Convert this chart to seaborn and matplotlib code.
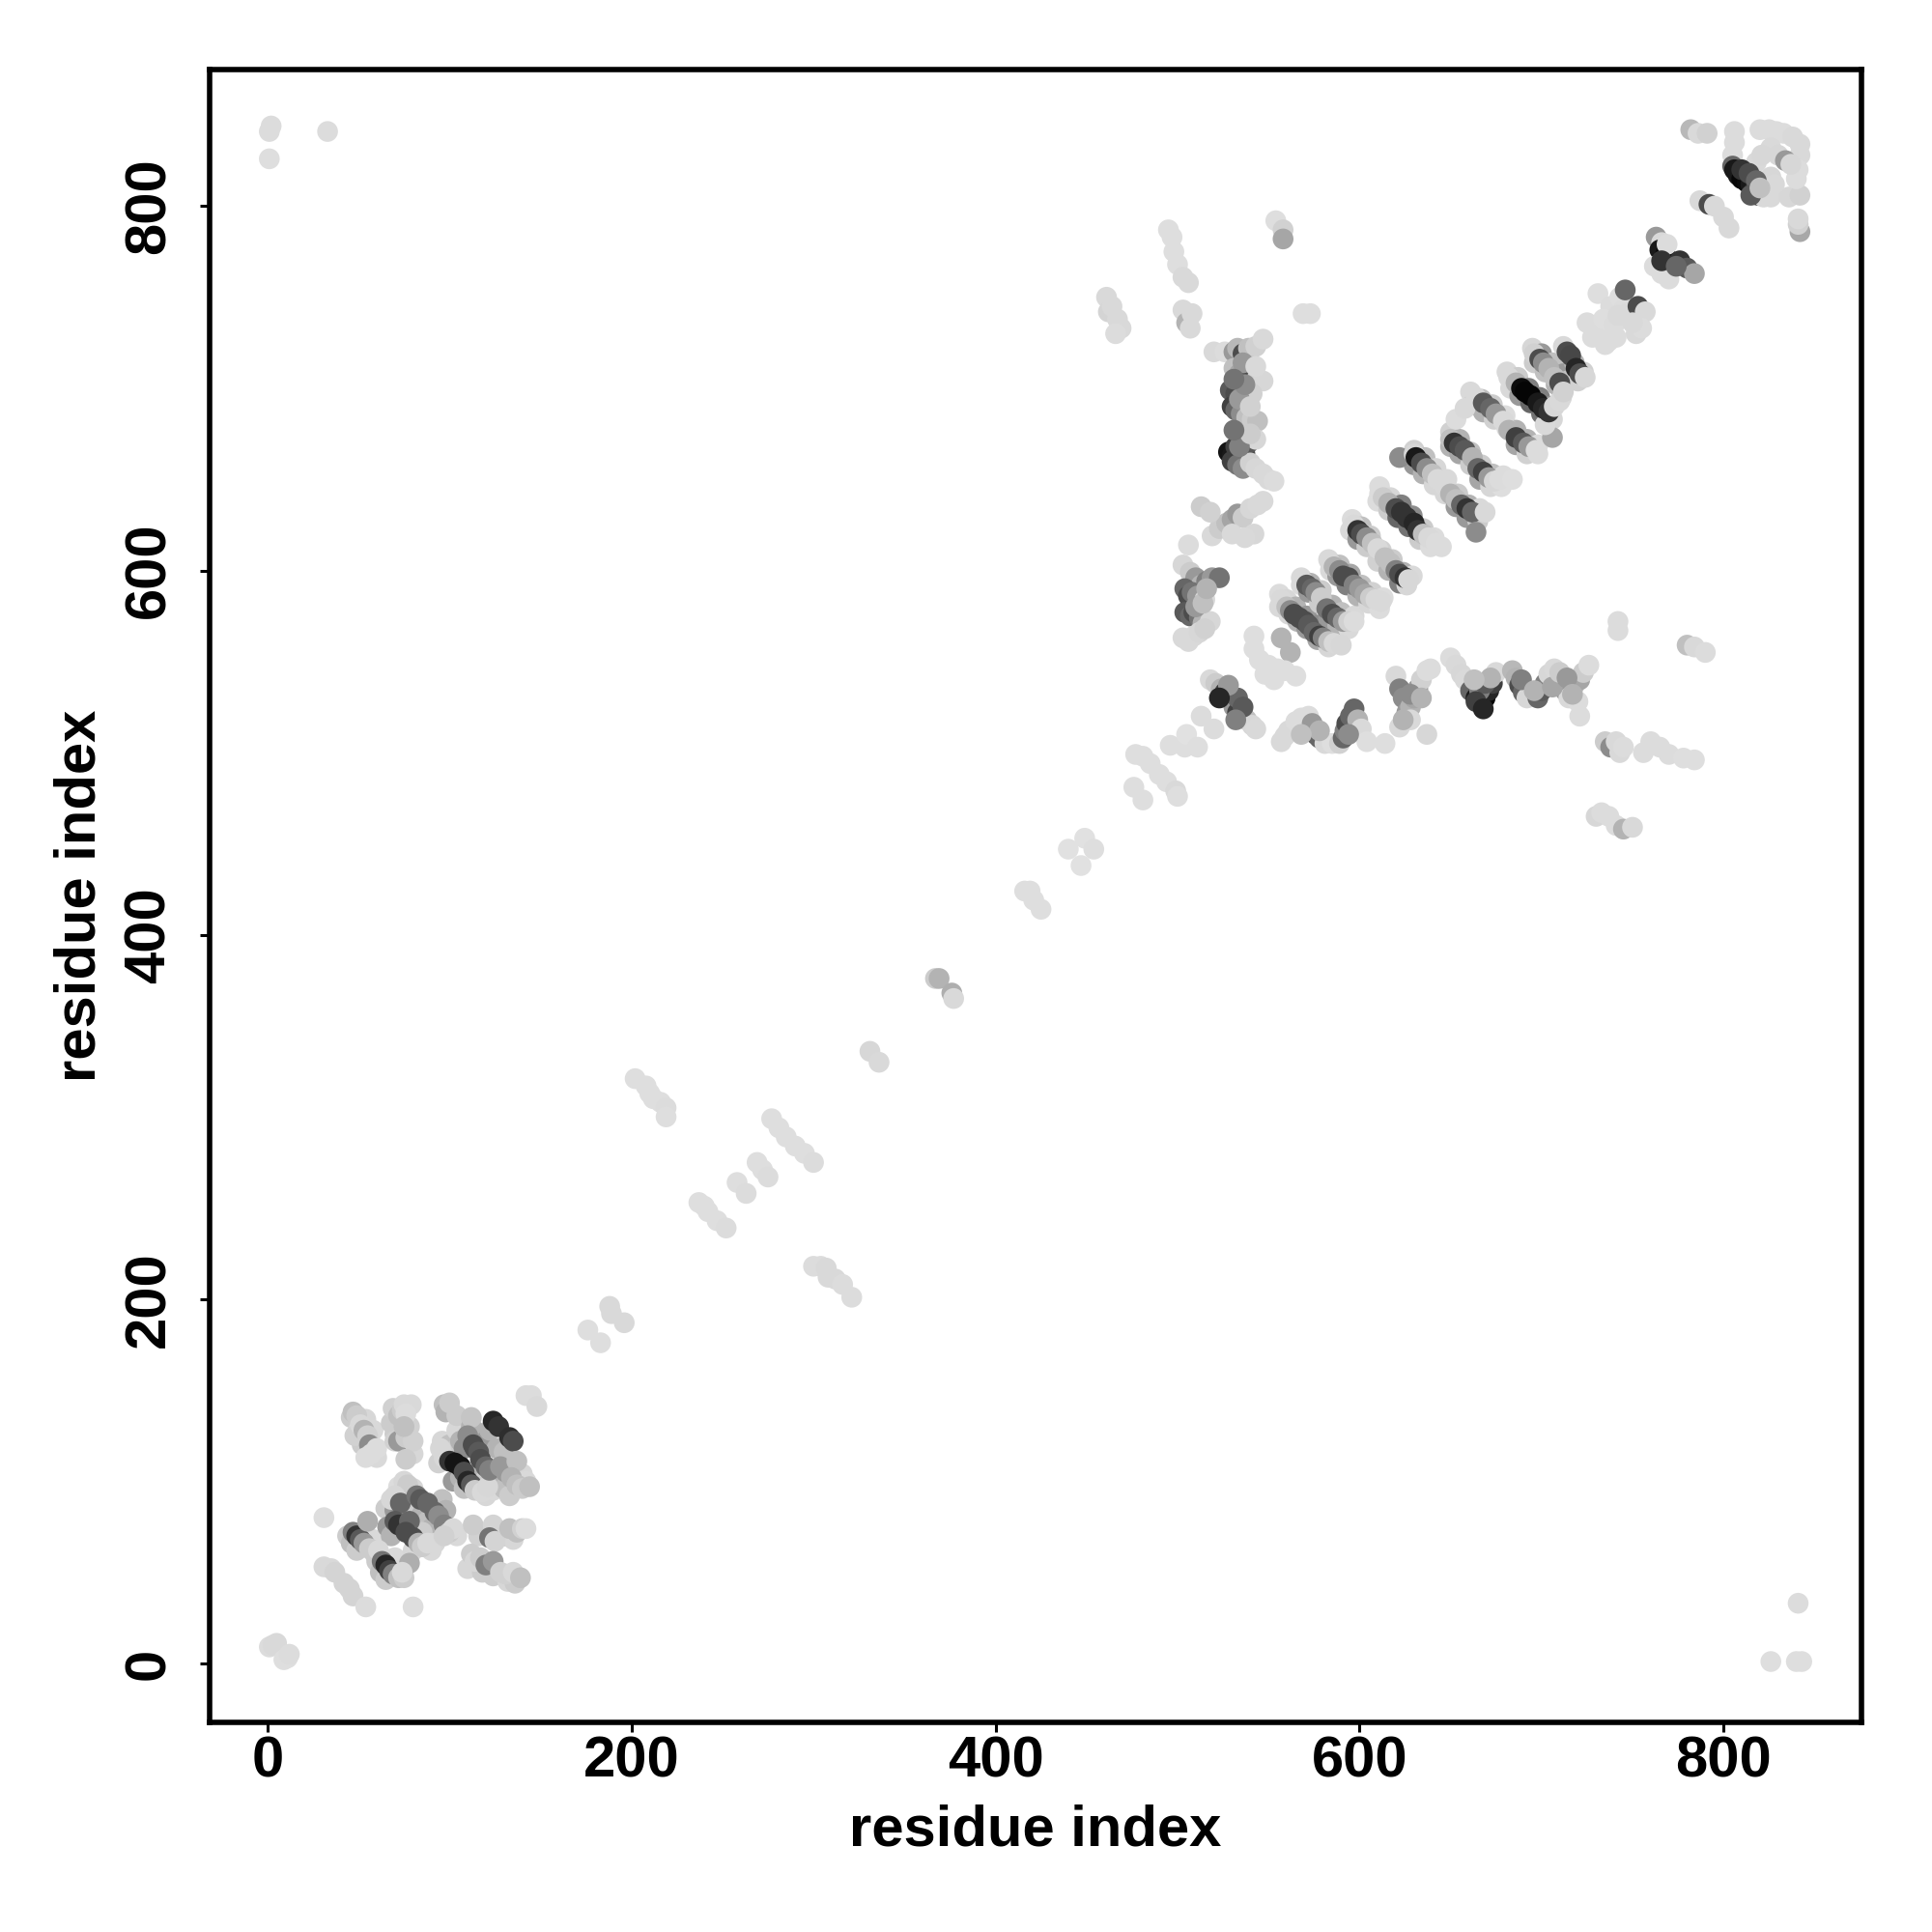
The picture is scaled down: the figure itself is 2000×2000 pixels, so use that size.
import matplotlib
matplotlib.use('Agg')
import matplotlib.pyplot as plt
import pandas as pd
import seaborn as sns

# each contact is (residue i, residue j, grey level)
corners = [(1, 9, .86), (3, 10, .85), (5, 11, .85), (9, 2, .87), (11, 3, .87), (12, 5, .86),
           (1, 841, .86), (2, 844, .86), (1, 826, .87), (33, 841, .86),
           (841, 33, .86), (826, 1, .87), (840, 1, .87), (843, 1, .87)]

n_term_halo = [(44, 70, .8), (46, 66, .75), (49, 62, .8), (52, 72, .84), (58, 68, .85), (60, 56, .8), (62, 50, .75), (65, 46, .8), (70, 58, .85), (75, 55, .85),
               (46, 135, .8), (50, 128, .85), (54, 134, .84), (58, 128, .85), (52, 120, .8), (60, 113, .85), (48, 125, .82),
               (68, 132, .8), (70, 126, .8), (78, 130, .82), (79, 142, .85), (69, 140, .82), (80, 115, .84),
               (65, 85, .8), (66, 75, .6), (68, 70, .7), (75, 84, .75), (78, 86, .8), (80, 96, .84), (85, 82, .7), (88, 78, .75), (90, 74, .7), (85, 72, .8), (92, 66, .84), (80, 62, .84), (96, 90, .75), (98, 84, .7), (104, 70, .85), (90, 62, .85),
               (96, 122, .84), (94, 110, .82), (100, 120, .75), (104, 118, .8), (102, 100, .6), (106, 102, .7), (108, 96, .75), (116, 104, .7), (119, 100, .8), (120, 92, .84), (124, 95, .85),
               (104, 128, .84), (106, 122, .7), (108, 118, .55), (118, 126, .5), (120, 122, .6), (122, 128, .7), (126, 118, .7), (130, 116, .75),
               (126, 100, .7), (130, 96, .75), (133, 92, .8), (140, 104, .84), (142, 100, .85),
               (116, 70, .82), (128, 72, .8), (130, 70, .75), (135, 68, .84), (110, 52, .84), (112, 60, .8), (118, 50, .8), (124, 48, .8), (132, 45, .84), (136, 44, .8)]

n_term = [(31, 80, .87), (31, 53, .85), (35, 52, .85), (37, 50, .83), (42, 44, .83), (45, 41, .83), (47, 37, .83), (54, 31, .86), (80, 31, .87),
          (47, 72, .5), (49, 70, .2), (51, 68, .35), (53, 66, .6), (55, 78, .68), (56, 63, .8), (59, 60, .8), (61, 62, .85),
          (63, 56, .45), (65, 54, .15), (67, 51, .25), (69, 49, .5), (72, 47, .75), (75, 47, .8), (78, 55, .68), (74, 50, .85),
          (47, 138, .75), (49, 136, .8), (51, 131, .85), (53, 128, .7), (55, 125, .82), (56, 120, .55), (54, 113, .86), (57, 115, .86), (60, 118, .86),
          (70, 122, .82), (72, 122, .6), (76, 124, .8), (80, 122, .82), (76, 112, .8),
          (72, 136, .75), (74, 139, .8), (75, 142, .85), (76, 137, .86), (75, 130, .75),
          (70, 84, .6), (72, 97, .86), (75, 100, .84), (77, 98, .8), (68, 90, .84), (70, 92, .84), (73, 88, .4),
          (70, 78, .35), (72, 76, .2), (78, 78, .4), (76, 72, .3), (80, 69, .3), (83, 66, .7), (85, 64, .8), (88, 66, .85),
          (82, 92, .45), (84, 90, .35), (88, 88, .4), (92, 83, .4), (94, 81, .55), (97, 76, .5), (100, 72, .8), (102, 74, .85), (97, 70, .82)]

n_term_b = [(97, 142, .75), (98, 138, .7), (100, 143, .8), (104, 136, .8), (95, 118, .84), (97, 113, .84),
            (112, 130, .7), (112, 135, .77), (110, 125, .55), (113, 120, .3), (114, 118, .3), (116, 116, .35),
            (100, 111, .2), (103, 110, .08), (106, 108, .08), (108, 105, .3), (110, 100, .15), (112, 98, .35), (114, 95, .8), (118, 94, .85), (121, 97, .84),
            (124, 133, .15), (127, 130, .2), (133, 124, .18), (135, 122, .3),
            (117, 112, .3), (120, 108, .4), (122, 106, .5), (128, 108, .6), (131, 105, .6), (137, 111, .75), (134, 102, .7), (137, 98, .75), (140, 96, .8), (144, 97, .75),
            (142, 147, .86), (145, 147, .86), (148, 141, .85),
            (113, 76, .8), (124, 76, .83), (122, 69, .45), (125, 67, .83), (133, 74, .75), (137, 72, .75), (140, 74, .82), (142, 74, .86),
            (114, 56, .84), (117, 58, .8), (120, 54, .5), (124, 56, .6), (128, 50, .82), (131, 49, .82), (135, 50, .85), (139, 47, .75)]

linker = [(176, 183, .87), (183, 176, .87), (188, 196, .85), (189, 192, .85), (196, 187, .85),
          (202, 321, .87), (208, 317, .87), (210, 313, .87), (212, 310, .87), (216, 308, .87), (219, 305, .86), (219, 300, .87),
          (237, 253, .87), (240, 251, .87), (242, 248, .87), (247, 243, .87), (252, 239, .86),
          (258, 264, .87), (263, 258, .86), (269, 275, .87), (272, 271, .87), (275, 267, .86),
          (277, 299, .87), (281, 294, .87), (285, 289, .87), (290, 284, .87), (295, 280, .87), (300, 275, .86),
          (300, 218, .86), (304, 218, .86), (307, 217, .85), (308, 212, .85), (312, 211, .85), (316, 208, .86), (321, 201, .86),
          (331, 336, .84), (336, 330, .85),
          (367, 376, .8), (369, 376, .7), (376, 368, .68), (377, 365, .85),
          (416, 424, .87), (419, 424, .87), (421, 419, .87), (425, 414, .87),
          (440, 447, .88), (449, 453, .88), (447, 438, .88), (454, 447, .87),
          (476, 481, .87), (481, 474, .87), (477, 499, .87), (481, 498, .87), (485, 494, .87), (490, 488, .87), (494, 484, .87), (499, 479, .85), (500, 476, .87),
          (504, 503, .87), (496, 504, .87), (505, 510, .88), (511, 503, .87), (520, 513, .86), (513, 520, .86)]

helix_halo = [(556, 587, .86), (560, 584, .84), (565, 580, .7), (571, 575, .6), (577, 570, .55), (583, 565, .75), (589, 562, .85), (556, 580, .85), (561, 576, .84), (566, 572, .7), (571, 568, .6), (577, 562, .65), (583, 558, .84),
              (568, 596, .85), (573, 593, .7), (579, 589, .8), (585, 581, .7), (590, 577, .75), (597, 575, .85), (568, 592, .85), (572, 588, .6), (578, 582, .8), (583, 574, .6), (588, 570, .7), (594, 568, .85),
              (583, 606, .85), (589, 603, .75), (595, 598, .65), (601, 592, .75), (607, 588, .82), (613, 585, .86), (584, 600, .85), (588, 597, .6), (593, 592, .5), (599, 586, .7), (605, 582, .84), (611, 579, .86),
              (596, 628, .86), (601, 624, .75), (606, 619, .8), (612, 611, .82), (618, 606, .8), (624, 599, .7), (629, 597, .85), (595, 622, .85), (599, 617, .6), (604, 613, .8), (610, 605, .82), (616, 600, .7), (622, 593, .5), (626, 592, .84),
              (611, 646, .86), (617, 640, .84), (623, 636, .5), (629, 630, .55), (635, 623, .8), (641, 618, .86), (610, 638, .86), (616, 633, .8), (621, 629, .4), (627, 624, .45), (633, 617, .8), (639, 613, .86),
              (630, 666, .82), (636, 662, .75), (642, 656, .84), (648, 650, .85), (654, 642, .8), (660, 636, .7), (666, 634, .85), (630, 658, .6), (635, 653, .7), (641, 647, .84), (647, 642, .84), (653, 635, .6), (659, 629, .6), (665, 627, .8),
              (650, 676, .82), (655, 672, .7), (661, 665, .75), (667, 658, .8), (673, 653, .75), (679, 652, .86), (650, 668, .7), (655, 664, .65), (661, 658, .8), (666, 650, .65), (672, 646, .84), (678, 646, .87),
              (661, 698, .85), (667, 694, .75), (673, 691, .8), (680, 685, .86), (686, 677, .7), (692, 672, .7), (698, 669, .86), (662, 691, .8), (668, 687, .7), (674, 683, .82), (681, 678, .84), (686, 669, .65), (692, 664, .82), (698, 664, .86),
              (681, 709, .85), (687, 706, .8), (693, 700, .5), (699, 695, .5), (705, 690, .6), (711, 695, .84), (683, 700, .85), (688, 696, .6), (694, 692, .4), (700, 686, .45), (706, 683, .84),
              (695, 722, .84), (700, 719, .6), (706, 714, .75), (712, 708, .6), (718, 714, .7), (723, 709, .82), (696, 714, .8), (702, 709, .75), (708, 702, .7), (714, 704, .75), (720, 704, .82)]

helix_bands = [(557, 584, .85), (560, 580, .75), (562, 578, .55), (564, 576, .3), (567, 574, .3), (570, 572, .3), (572, 570, .35), (575, 566, .4), (578, 564, .25), (580, 563, .5), (583, 561, .75), (586, 560, .85), (590, 559, .84),
               (569, 594, .85), (571, 592, .35), (574, 590, .4), (576, 588, .55), (579, 585, .8), (582, 579, .45), (585, 576, .3), (588, 574, .4), (591, 572, .6), (594, 572, .82), (597, 572, .86),
               (584, 604, .85), (586, 602, .7), (589, 600, .55), (591, 597, .3), (594, 596, .3), (597, 592, .5), (600, 590, .6), (603, 587, .65), (606, 585, .8), (609, 584, .85), (612, 583, .85),
               (597, 625, .85), (599, 622, .2), (601, 620, .3), (604, 618, .55), (607, 615, .75), (610, 612, .85), (614, 607, .75), (617, 604, .75), (620, 600, .5), (622, 598, .3), (625, 596, .2), (627, 595, .84),
               (611, 642, .86), (613, 640, .8), (616, 637, .7), (620, 634, .3), (623, 632, .2), (626, 629, .2), (630, 626, .15), (632, 622, .2), (635, 620, .75), (638, 618, .85), (642, 615, .86), (645, 613, .86),
               (622, 662, .55), (630, 664, .84), (631, 662, .1), (634, 659, .3), (637, 656, .55), (640, 653, .75), (643, 650, .85), (647, 646, .85), (650, 642, .7), (653, 639, .75), (656, 636, .4), (659, 634, .2), (662, 632, .4), (664, 621, .55), (669, 632, .85),
               (653, 683, .86), (658, 689, .85), (650, 672, .75), (652, 670, .2), (655, 668, .3), (658, 666, .35), (662, 662, .7), (665, 656, .4), (668, 654, .25), (671, 651, .6), (674, 649, .84), (677, 650, .86), (684, 650, .87),
               (664, 695, .85), (668, 692, .35), (672, 689, .4), (675, 686, .6), (679, 682, .85), (682, 677, .7), (686, 673, .25), (690, 670, .35), (693, 668, .6), (697, 666, .86), (706, 673, .65), (702, 680, .85),
               (682, 706, .85), (686, 703, .7), (689, 700, .05), (691, 698, .02), (694, 696, .02), (698, 692, .1), (701, 689, .15), (704, 687, .2), (707, 690, .84), (710, 693, .85),
               (696, 719, .82), (699, 716, .3), (701, 714, .55), (704, 711, .7), (707, 706, .75), (710, 703, .3), (712, 723, .85), (714, 720, .3), (716, 718, .28), (719, 711, .15), (721, 708, .3), (724, 706, .84), (712, 698, .82)]

upper = [(725, 736, .86), (729, 734, .86), (733, 730, .86), (737, 726, .86), (741, 728, .86), (731, 752, .87), (738, 745, .86), (743, 750, .87), (728, 728, .86), (734, 738, .87), (740, 735, .86), (745, 743, .86), (735, 724, .86), (752, 730, .85),
         (746, 754, .4), (747, 741, .85), (753, 745, .3), (757, 742, .85), (755, 733, .86), (750, 736, .85), (742, 740, .85),
         (763, 783, .6), (766, 780, .85), (765, 776, .1), (768, 773, .03), (769, 779, .86), (762, 767, .86), (766, 763, .86), (770, 760, .86), (776, 770, .2), (780, 766, .35), (784, 763, .65),
         (787, 803, .85), (792, 801, .3), (795, 800, .85), (800, 794, .85), (803, 788, .85)]

top_right = [(782, 842, .72), (786, 840, .85), (791, 840, .82),
             (806, 841, .86), (806, 835, .86), (805, 828, .86), (805, 822, .4),
             (806, 820, .1), (808, 817, .1), (810, 815, .03), (813, 813, .05), (815, 812, .1), (817, 809, .15), (819, 806, .2), (822, 805, .85), (826, 805, .85),
             (836, 805, .84), (842, 806, .82),
             (820, 842, .86), (825, 842, .86), (829, 841, .86), (833, 840, .86), (838, 838, .85), (842, 834, .85), (842, 828, .85), (841, 820, .86), (840, 815, .86),
             (826, 832, .85), (830, 828, .84), (834, 825, .6), (837, 823, .84),
             (818, 824, .85), (821, 828, .84), (826, 816, .84), (828, 812, .85),
             (842, 786, .66), (841, 790, .82), (841, 793, .85)]

branch = [(520, 720, .85), (526, 720, .86),
          (531, 720, .6), (533, 722, .72), (536, 719, .3), (539, 722, .75), (543, 723, .82), (547, 727, .85),
          (531, 711, .75), (534, 708, .65), (538, 706, .25), (540, 710, .3), (543, 704, .82), (547, 704, .84),
          (529, 699, .35), (532, 697, .3), (535, 695, .5), (538, 697, .8), (541, 697, .82),
          (530, 690, .25), (532, 688, .4), (535, 686, .55), (538, 684, .75), (541, 683, .8), (544, 682, .75),
          (528, 665, .08), (530, 663, .1), (532, 668, .25), (535, 669, .15), (537, 664, .3), (539, 670, .35), (543, 672, .84),
          (530, 660, .25), (533, 658, .45), (536, 656, .55), (540, 659, .82), (543, 656, .84), (547, 653, .85), (550, 650, .85), (553, 649, .86),
          (519, 619, .85), (523, 623, .8), (527, 626, .75), (530, 628, .65), (533, 631, .6), (536, 629, .8), (540, 634, .84), (544, 636, .85), (547, 638, .85),
          (513, 635, .8), (518, 632, .82), (530, 620, .85), (542, 620, .84), (537, 618, .85), (506, 614, .86)]

branch_low = [(503, 603, .84), (507, 599, .8), (510, 596, .6), (513, 592, .7), (516, 594, .5), (519, 596, .6), (523, 596, .45),
              (504, 590, .4), (506, 586, .3), (508, 588, .45), (511, 586, .6), (515, 584, .85),
              (504, 577, .35), (507, 575, .4), (509, 577, .3), (512, 574, .45), (514, 571, .7), (518, 572, .84),
              (503, 563, .85), (506, 561, .85), (509, 564, .85), (512, 566, .84), (515, 568, .82),
              (542, 564, .87), (542, 557, .87), (557, 563, .7), (562, 555, .7), (545, 551, .87), (550, 548, .87), (548, 543, .87), (555, 546, .87), (553, 540, .87), (559, 545, .87), (565, 542, .87)]

wave = [(518, 540, .85), (521, 538, .8), (524, 535, .7), (527, 532, .3), (526, 533, .25), (528, 530, .02), (531, 525, .6), (533, 522, .25), (536, 520, .3), (538, 518, .75), (541, 515, .84), (543, 513, .85),
        (557, 506, .85), (559, 509, .85), (561, 512, .85), (565, 517, .86), (568, 519, .86), (572, 520, .86), (574, 514, .7), (576, 510, .3), (578, 508, .4), (581, 505, .85), (585, 505, .87),
        (589, 505, .82), (591, 508, .4), (592, 512, .5), (593, 516, .3), (595, 520, .4), (597, 524, .4), (599, 518, .7), (601, 513, .85), (604, 506, .87), (614, 505, .87),
        (620, 542, .85), (622, 535, .5), (624, 530, .55), (626, 522, .6), (622, 514, .85), (628, 525, .7), (630, 530, .65), (632, 535, .6), (634, 540, .82), (637, 545, .86), (639, 546, .86), (628, 518, .85), (637, 510, .84),
        (650, 552, .86), (653, 548, .85), (656, 543, .84), (658, 540, .85), (661, 534, .4), (664, 530, .1), (667, 528, .05), (669, 530, .02), (671, 534, .15), (673, 538, .25), (675, 544, .85),
        (684, 545, .72), (686, 541, .7), (688, 537, .3), (690, 533, .4), (692, 530, .84), (698, 530, .4), (700, 534, .35), (702, 538, .5), (704, 543, .84), (707, 546, .85),
        (710, 538, .4), (713, 534, .6), (715, 530, .85), (718, 537, .75), (721, 540, .65), (723, 544, .8), (726, 548, .86), (720, 528, .86), (721, 520, .86),
        (742, 572, .86), (742, 567, .86),
        (735, 506, .8), (738, 503, .55), (741, 506, .85), (743, 500, .85), (745, 503, .86),
        (756, 500, .86), (760, 506, .86), (765, 503, .86), (770, 499, .86), (778, 497, .87), (784, 496, .87),
        (780, 559, .75), (784, 558, .85), (790, 555, .86),
        (730, 465, .84), (733, 467, .86), (737, 465, .86), (741, 460, .86), (745, 458, .7), (750, 459, .85)]

upper_left = [(495, 787, .87), (497, 783, .87), (498, 775, .87), (500, 768, .87), (503, 761, .85), (506, 758, .85),
              (503, 743, .85), (505, 736, .7), (507, 733, .85), (508, 741, .85),
              (461, 750, .85), (462, 742, .83), (464, 745, .85), (467, 738, .85), (469, 733, .85), (466, 730, .86),
              (554, 792, .87), (558, 787, .82), (558, 782, .65), (569, 741, .87), (573, 741, .87)]

# contacts lying over the dark ones
top_layer = [(534, 668, .5), (540, 675, .8), (534, 694, .6), (540, 690, .82), (536, 714, .6), (543, 712, .85),
             (537, 702, .55), (531, 705, .45), (531, 677, .45),
             (510, 580, .6), (514, 582, .75), (516, 590, .7),
             (594, 510, .55), (574, 516, .6), (578, 512, .7), (568, 510, .75),
             (666, 534, .5), (669, 538, .35), (672, 541, .7), (664, 528, .25), (668, 524, .15), (663, 540, .75),
             (689, 540, .5), (696, 534, .7), (706, 536, .65), (710, 544, .8), (714, 541, .6), (717, 532, .7),
             (533, 530, .4), (528, 537, .6), (536, 525, .35), (523, 530, .15), (532, 518, .5),
             (624, 518, .7), (628, 532, .55), (634, 530, .7),
             (810, 820, .2), (814, 818, .3), (818, 814, .4), (815, 806, .35), (820, 810, .75),
             (766, 770, .2), (774, 767, .4)]

all_groups = [corners, helix_halo, n_term_halo, n_term, n_term_b, linker, helix_bands, upper, top_right, branch, branch_low, wave, upper_left, top_layer]
x_ticks = [0, 200, 400, 600, 800]
y_ticks = [0, 200, 400, 600, 800]

df = pd.DataFrame([p for grp in all_groups for p in grp], columns=['i', 'j', 'grey'])

sns.set_theme(style='white')
plt.rcParams['font.family'] = ['Liberation Sans', 'DejaVu Sans']
plt.rcParams['font.weight'] = 'bold'

fig = plt.figure(figsize=(10, 10), dpi=200, facecolor='white')
ax = fig.add_axes([0.1085, 0.1085, 0.855, 0.8555])

sns.scatterplot(data=df, x='i', y='j', hue='grey', palette='gray', hue_norm=(0, 1),
                s=60, linewidth=0, legend=False, ax=ax)

ax.set_xlim(-31.8, 875.8)
ax.set_ylim(-32.4, 875)
ax.set_xticks(x_ticks)
ax.set_yticks(y_ticks)
ax.tick_params(axis='both', length=3.5, width=1.1, color='black', left=True, bottom=True, labelsize=21.5, labelcolor='black')
ax.tick_params(axis='x', pad=1.5)
ax.tick_params(axis='y', pad=9)
for lab in ax.get_yticklabels():
    lab.set_rotation(90)
    lab.set_va('center')
for sp in ax.spines.values():
    sp.set_linewidth(2.0)
    sp.set_color('black')

ax.set_xlabel('residue index', fontsize=21.5, fontweight='bold', color='black', labelpad=5.5)
ax.set_ylabel('residue index', fontsize=21.5, fontweight='bold', color='black', labelpad=6)

fig.savefig('out.png', dpi=200)
